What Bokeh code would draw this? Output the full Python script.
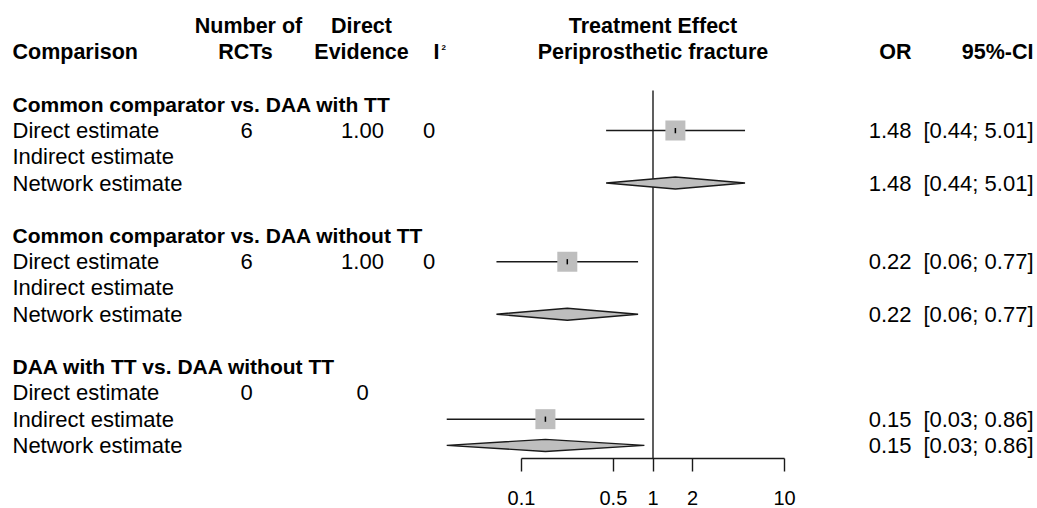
from bokeh.plotting import figure
from bokeh.models import Range1d, LinearScale, FixedTicker, ColumnDataSource
from bokeh.core.properties import value
from bokeh.embed import file_html
from bokeh.resources import INLINE

# ---------------- data ----------------
comparisons = ["Common comparator vs. DAA with TT",
               "Common comparator vs. DAA without TT",
               "DAA with TT vs. DAA without TT"]
estimate_types = ["Direct estimate", "Indirect estimate", "Network estimate"]
n_rcts = ["6", "6", "0"]
direct_evidence = ["1.00", "1.00", "0"]
i2_values = ["0", "0", ""]
# odds ratios per comparison: [direct, indirect, network]; None = not available
or_est = [[1.48, None, 1.48], [0.223, None, 0.223], [None, 0.152, 0.152]]
or_low = [[0.44, None, 0.44], [0.0645, None, 0.0645], [None, 0.027, 0.027]]
or_up = [[5.01, None, 5.01], [0.77, None, 0.77], [None, 0.86, 0.86]]
ticks = [0.1, 0.5, 1, 2, 10]
tick_labels = {0.1: "0.1", 0.5: "0.5", 1: "1", 2: "2", 10: "10"}

# ---------------- layout constants ----------------
W, H = 1037, 508
ONE_PX = 652.5          # pixel position of OR = 1
DECADE_PX = 131.5       # pixels per decade
ROW0_PX = 103.8         # pixel position of row 0
ROW_PX = 26.24          # row height
AXIS_PX = 458           # pixel position of the x axis line
FONT = value("Liberation Sans")
FS = "22px"
FSB = "21.5px"
GREY = "#BEBEBE"
LINE = "#1a1a1a"
LW = 1.4

y_top = -ROW0_PX / ROW_PX
y_bot = (H - ROW0_PX) / ROW_PX
y_axis = (AXIS_PX - ROW0_PX) / ROW_PX

p = figure(width=W, height=H, x_axis_type="log",
           x_range=Range1d(10 ** ((0 - ONE_PX) / DECADE_PX), 10 ** ((W - ONE_PX) / DECADE_PX)),
           y_range=Range1d(y_bot, y_top),
           output_backend="svg", toolbar_location=None, y_axis_location=None,
           min_border=0)
p.extra_x_ranges = {"tbl": Range1d(0, W)}
p.extra_x_scales = {"tbl": LinearScale()}
p.outline_line_color = None
p.grid.visible = False
p.background_fill_color = "white"
p.border_fill_color = "white"

# axis (drawn inside the frame at the bottom of the forest)
ax = p.xaxis[0]
ax.fixed_location = y_axis
ax.ticker = FixedTicker(ticks=ticks, minor_ticks=[])
ax.major_label_overrides = tick_labels
ax.bounds = (min(ticks), max(ticks))
ax.major_tick_in = 0
ax.major_tick_out = 13
ax.minor_tick_line_color = None
ax.axis_line_color = LINE
ax.axis_line_width = LW
ax.major_tick_line_color = LINE
ax.major_tick_line_width = LW
ax.major_label_text_font = "Liberation Sans"
ax.major_label_text_font_size = "20px"
ax.major_label_text_color = "black"
ax.major_label_standoff = 19

# build rows
title_rows, title_txt = [], []
lab_rows, lab_txt = [], []
rct_rows, rct_txt, de_txt, i2_txt = [], [], [], []
sq = dict(y=[], est=[], lo=[], hi=[])
dm_xs, dm_ys = [], []
res_rows, or_txt, ci_txt = [], [], []
for g, comp in enumerate(comparisons):
    base = g * 5
    title_rows.append(base)
    title_txt.append(comp)
    rct_rows.append(base + 1)
    rct_txt.append(n_rcts[g])
    de_txt.append(direct_evidence[g])
    i2_txt.append(i2_values[g])
    for k, et in enumerate(estimate_types):
        r = base + 1 + k
        lab_rows.append(r)
        lab_txt.append(et)
        e, lo, hi = or_est[g][k], or_low[g][k], or_up[g][k]
        if e is None:
            continue
        res_rows.append(r)
        or_txt.append(f"{e:.2f}")
        ci_txt.append(f"[{lo:.2f}; {hi:.2f}]")
        if k < 2:
            sq["y"].append(r); sq["est"].append(e); sq["lo"].append(lo); sq["hi"].append(hi)
        else:
            h = 0.23
            dm_xs.append([lo, e, hi, e])
            dm_ys.append([r, r - h, r, r + h])

# reference line at OR = 1
p.segment(x0=[1], x1=[1], y0=[-0.53], y1=[y_axis], line_color=LINE, line_width=LW)

# CIs and squares
sqs = ColumnDataSource(sq)
p.segment(x0="lo", x1="hi", y0="y", y1="y", source=sqs, line_color=LINE, line_width=LW)
p.scatter(x="est", y="y", source=sqs, marker="square", size=20,
          fill_color=GREY, line_color=None)
sqs2 = ColumnDataSource(dict(est=sq["est"], y0=[v - 0.1 for v in sq["y"]], y1=[v + 0.1 for v in sq["y"]]))
p.segment(x0="est", x1="est", y0="y0", y1="y1", source=sqs2, line_color="black", line_width=1.5)
# diamonds
p.patches(xs=dm_xs, ys=dm_ys, fill_color=GREY, line_color=LINE, line_width=LW)

def txt(x, y, t, align="left", bold=False, size=FS, rng="tbl"):
    kw = dict(x=x, y=y, text=t, text_font=FONT, text_font_size=size,
              text_align=align, text_baseline="middle", text_color="black",
              text_font_style="bold" if bold else "normal")
    if rng:
        kw["x_range_name"] = rng
    p.text(**kw)

# headers
txt([248], [-3], ["Number of"], "center", True, FSB)
txt([361], [-3], ["Direct"], "center", True, FSB)
txt([12], [-2], ["Comparison"], "left", True, FSB)
txt([245], [-2], ["RCTs"], "center", True, FSB)
txt([361], [-2], ["Evidence"], "center", True, FSB)
txt([433], [-2], ["I"], "left", True, FSB)
txt([441], [-2.16], ["2"], "left", True, "8px")
txt([1], [-3], ["Treatment Effect"], "center", True, FSB, rng=None)
txt([1], [-2], ["Periprosthetic fracture"], "center", True, FSB, rng=None)
txt([911], [-2], ["OR"], "right", True, FSB)
txt([1033], [-2], ["95%-CI"], "right", True, FSB)

# table body
txt([12] * len(title_rows), title_rows, title_txt, "left", True, "21px")
txt([12] * len(lab_rows), lab_rows, lab_txt, "left")
txt([246] * len(rct_rows), rct_rows, rct_txt, "center")
txt([362] * len(rct_rows), rct_rows, de_txt, "center")
txt([428.5] * len(rct_rows), rct_rows, i2_txt, "center")
txt([911] * len(res_rows), res_rows, or_txt, "right")
txt([1033] * len(res_rows), res_rows, ci_txt, "right")

open("out.html", "w").write(file_html(p, INLINE))
